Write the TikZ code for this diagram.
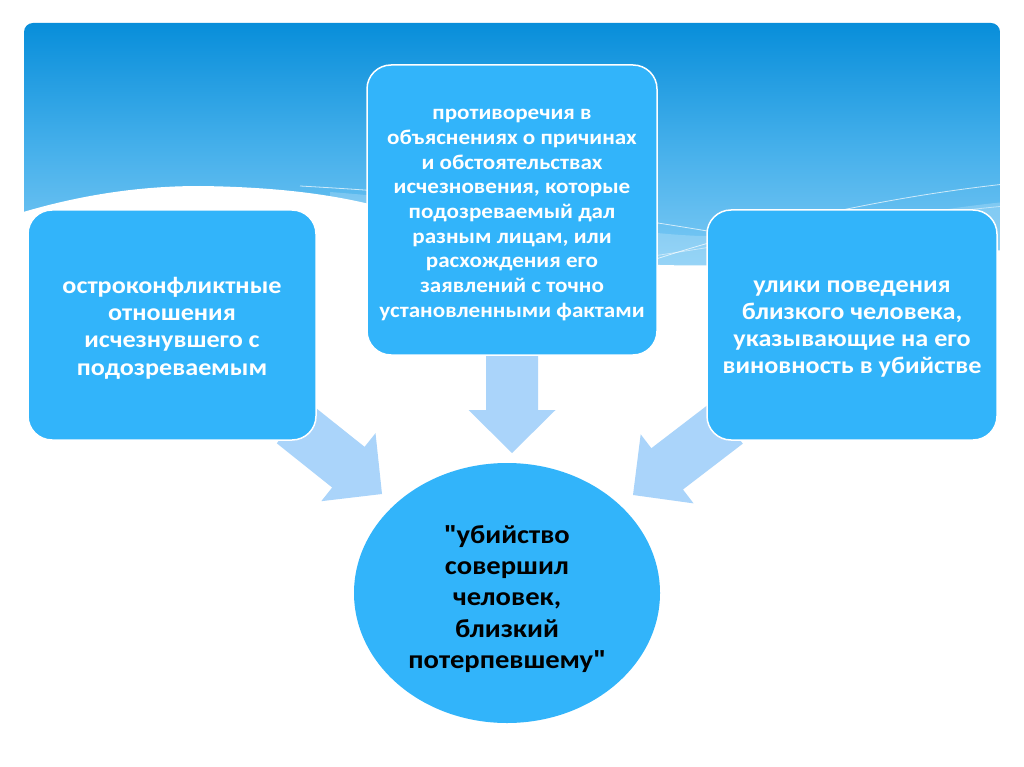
\documentclass[tikz,border=0pt]{standalone}
\usepackage{fontspec}
\setmainfont{Carlito}[FakeStretch=1.1]
\newfontfamily\quotefont{Liberation Sans}
\usetikzlibrary{calc,shapes.geometric}
\definecolor{boxblue}{RGB}{50,180,250}
\definecolor{arrowblue}{RGB}{170,212,250}
\definecolor{bantop}{RGB}{8,142,218}
\definecolor{banmid}{RGB}{70,176,235}
\definecolor{banbot}{RGB}{130,204,245}
\newcommand\blockarr[2]{%
  \coordinate (hb) at ($(#2)!43pt!(#1)$);
  \fill[arrowblue] ($(#1)!26pt!90:(#2)$) -- ($(hb)!26pt!-90:(#1)$) -- ($(hb)!43.5pt!-90:(#1)$) -- (#2)
     -- ($(hb)!43.5pt!90:(#1)$) -- ($(hb)!26pt!90:(#1)$) -- ($(#1)!26pt!-90:(#2)$) -- cycle;}
\newcommand\qq{{\quotefont\bfseries\symbol{"22}}}
\tikzset{
  boxnode/.style={draw=white, line width=1.5pt, fill=boxblue, rounded corners=24pt, inner sep=0pt},
  boxtext/.style={text=white, align=center, inner sep=0pt},
  sidetext/.style={font=\fontsize{23.8}{27.2}\selectfont\bfseries},
  midtext/.style={font=\fontsize{21}{24.7}\selectfont\bfseries},
  ovaltext/.style={font=\fontsize{26}{31.3}\selectfont\bfseries, text=black, align=center, inner sep=0pt}
}
\begin{document}
\begin{tikzpicture}[x=1pt,y=-1pt]
\useasboundingbox (0,0) rectangle (1024,767);
\fill[white] (0,0) rectangle (1024,767);
% banner
\begin{scope}
  \clip[rounded corners=9pt] (24,330) -- (24,23) -- (1000,23) -- (1000,330) [sharp corners] -- cycle;
  \shade[top color=bantop, bottom color=banbot, middle color=banmid] (24,23) rectangle (1000,275);
  \fill[white, opacity=0.2] (330,192) .. controls (500,205) and (600,232) .. (700,236)
      .. controls (820,234) and (920,210) .. (1005,202) -- (1005,330) -- (330,330) -- cycle;
  \draw[white, opacity=0.7, line width=0.8pt] (300,186) .. controls (480,196) and (600,212) .. (760,240);
  \draw[white, opacity=0.7, line width=0.8pt] (600,278) .. controls (720,235) and (860,200) .. (1005,184);
  \draw[white, opacity=0.5, line width=0.8pt] (640,258) .. controls (760,240) and (880,218) .. (1005,206);
  \fill[white] (20,213) .. controls (90,192) and (150,186) .. (200,186)
      .. controls (280,187) and (330,195) .. (365,203)
      .. controls (480,228) and (580,262) .. (660,265)
      .. controls (800,268) and (920,256) .. (1005,250) -- (1005,340) -- (20,340) -- cycle;
\end{scope}
% arrow end points
\coordinate (lt) at (293,423);
\coordinate (lp) at (382,494);
\coordinate (ct) at (512,356);
\coordinate (cp) at (512,453);
\coordinate (rt) at (727,423);
\coordinate (rp) at (633,495);
\blockarr{lt}{lp}
\blockarr{ct}{cp}
\blockarr{rt}{rp}
% boxes
\node[boxnode, minimum width=288pt, minimum height=230pt] (L) at (172,325) {};
\node[boxnode, minimum width=290pt, minimum height=230pt] (R) at (852,325) {};
\node[boxnode, minimum width=290pt, minimum height=290pt] (C) at (512,210) {};
\node[ellipse, fill=boxblue, minimum width=306pt, minimum height=260pt, inner sep=0pt] (E) at (507,593) {};
% texts
\node[boxtext, sidetext] (Lt) at ($(L.center)+(0,3)$)
  {остроконфликтные\\отношения\\исчезнувшего с\\подозреваемым};
\node[boxtext, sidetext] (Rt) at ($(R.center)+(0,4)$)
  {улики поведения\\близкого человека,\\указывающие на его\\виновность в убийстве};
\node[boxtext, midtext] (Ct) at ($(C.center)+(0,5)$)
  {противоречия в\\объяснениях о причинах\\и обстоятельствах\\исчезновения, которые\\подозреваемый дал\\разным лицам, или\\расхождения его\\заявлений с точно\\установленными фактами};
\node[ovaltext] (Et) at ($(E.center)+(0,6)$)
  {\qq убийство\\совершил\\человек,\\близкий\\потерпевшему\qq};
\end{tikzpicture}
\end{document}
